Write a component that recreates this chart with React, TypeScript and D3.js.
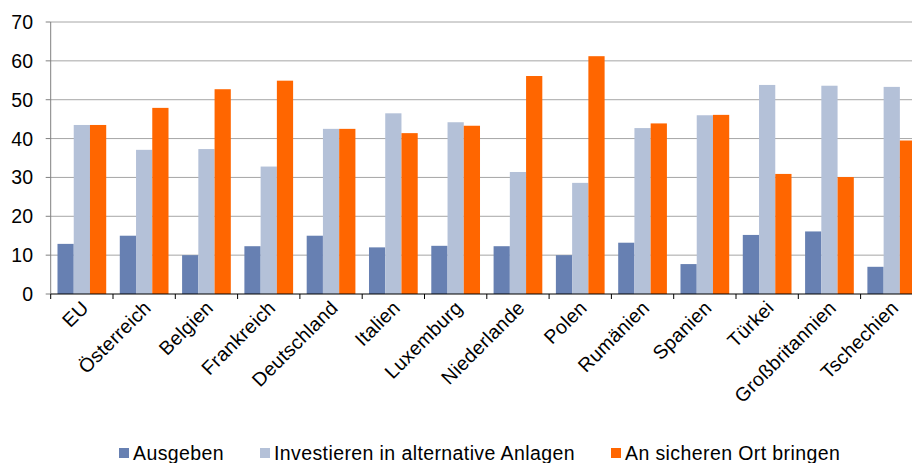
import React, { useEffect, useRef } from 'react';
import * as d3 from 'd3';

const LAENDER = ['EU', 'Österreich', 'Belgien', 'Frankreich', 'Deutschland', 'Italien', 'Luxemburg', 'Niederlande', 'Polen', 'Rumänien', 'Spanien', 'Türkei', 'Großbritannien', 'Tschechien'];
const AUSGEBEN = [12.9, 15.0, 10.0, 12.3, 15.0, 12.0, 12.4, 12.3, 10.0, 13.2, 7.7, 15.2, 16.1, 7.0];
const INVESTIEREN = [43.5, 37.1, 37.3, 32.8, 42.5, 46.5, 44.2, 31.4, 28.6, 42.7, 46.0, 53.8, 53.6, 53.3];
const SICHER = [43.5, 47.9, 52.7, 54.9, 42.5, 41.4, 43.3, 56.1, 61.2, 43.9, 46.1, 30.9, 30.1, 39.5];
const SERIEN = ['Ausgeben', 'Investieren in alternative Anlagen', 'An sicheren Ort bringen'];
const Y_TICKS = [0, 10, 20, 30, 40, 50, 60, 70];

const FARBEN = ['#6780B2', '#B4C1D8', '#FF6600'];

const App: React.FC = () => {
  const svgRef = useRef<SVGSVGElement>(null);

  useEffect(() => {
    if (!svgRef.current) return;
    const width = 912;
    const height = 463;
    const left = 50.7;
    const top = 22;
    const bottom = 294;
    const step = 62.3;

    const svg = d3.select(svgRef.current).attr('viewBox', `0 0 ${width} ${height}`).html('');
    const font = "'Liberation Sans', Arial, sans-serif";

    const x = d3.scaleBand<string>().domain(LAENDER).range([left, left + step * LAENDER.length]).paddingInner(0.218).paddingOuter(0.109);
    const x1 = d3.scaleBand<number>().domain([0, 1, 2]).range([0, x.bandwidth()]);
    const y = d3.scaleLinear().domain([0, 70]).range([bottom, top]);

    // grid lines
    svg.append('g').selectAll('line').data(Y_TICKS.filter(t => t > 0)).enter().append('line')
      .attr('x1', left).attr('x2', width)
      .attr('y1', d => y(d)).attr('y2', d => y(d))
      .attr('stroke', '#A6A6A6').attr('stroke-width', 1);

    // bars
    const reihen = [AUSGEBEN, INVESTIEREN, SICHER];
    const groups = svg.append('g').selectAll('g').data(LAENDER).enter().append('g')
      .attr('transform', d => `translate(${x(d)},0)`);
    groups.selectAll('rect').data((_, i) => reihen.map((r, s) => ({ s, v: r[i] }))).enter().append('rect')
      .attr('x', d => x1(d.s)!)
      .attr('width', x1.bandwidth())
      .attr('y', d => y(d.v))
      .attr('height', d => bottom - y(d.v))
      .attr('fill', d => FARBEN[d.s]);

    // y axis
    svg.append('line').attr('x1', left).attr('x2', left).attr('y1', top).attr('y2', bottom).attr('stroke', '#808080');
    svg.append('g').selectAll('line').data(Y_TICKS).enter().append('line')
      .attr('x1', left - 5).attr('x2', left).attr('y1', d => y(d)).attr('y2', d => y(d)).attr('stroke', '#808080');
    svg.append('g').selectAll('text').data(Y_TICKS).enter().append('text')
      .attr('x', 33).attr('y', d => y(d)).attr('dy', '0.36em')
      .attr('text-anchor', 'end').attr('font-family', font).attr('font-size', 19.5).attr('fill', '#000')
      .text(d => d);

    // x axis
    svg.append('line').attr('x1', left).attr('x2', width).attr('y1', bottom).attr('y2', bottom).attr('stroke', '#000');
    const grenzen = d3.range(LAENDER.length + 1).map(i => left + i * step);
    svg.append('g').selectAll('line').data(grenzen).enter().append('line')
      .attr('x1', d => d).attr('x2', d => d).attr('y1', bottom).attr('y2', bottom + 5).attr('stroke', '#000');
    svg.append('g').selectAll('text').data(LAENDER).enter().append('text')
      .attr('transform', d => `translate(${x(d)! + x.bandwidth() / 2 + 8},${bottom + 15}) rotate(-45)`)
      .attr('text-anchor', 'end').attr('font-family', font).attr('font-size', 19.5).attr('letter-spacing', 0.3).attr('fill', '#000')
      .text(d => d);

    // legend
    const legendX = [119, 260, 611];
    const lg = svg.append('g').selectAll('g').data(SERIEN).enter().append('g')
      .attr('transform', (_, i) => `translate(${legendX[i]},0)`);
    lg.append('rect').attr('x', 0).attr('y', 448).attr('width', 10).attr('height', 10).attr('fill', (_, i) => FARBEN[i]);
    lg.append('text').attr('x', 14).attr('y', 459.5).attr('font-family', font).attr('font-size', 19.5).attr('letter-spacing', 0.4).attr('fill', '#000')
      .text(d => d);
  }, []);

  return (
    <svg ref={svgRef} width={912} height={463} style={{ position: 'absolute', left: 0, top: 0, display: 'block' }}></svg>
  );
};

export default App;
